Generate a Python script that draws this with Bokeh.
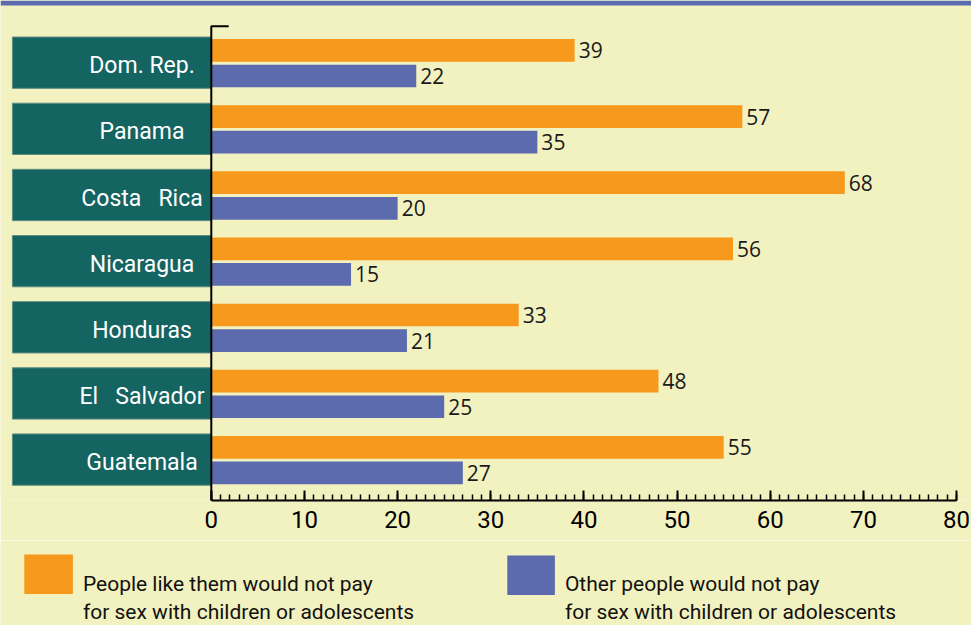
from bokeh.plotting import figure
from bokeh.models import Range1d, SingleIntervalTicker
from bokeh.layouts import column
from bokeh.core.properties import value
from bokeh.embed import file_html
from bokeh.resources import INLINE

# ---------------- data ----------------
countries = ["Dom. Rep.", "Panama", "Costa\u00a0\u00a0 Rica", "Nicaragua",
             "Honduras", "El\u00a0\u00a0 Salvador", "Guatemala"]
like_them = [39, 57, 68, 56, 33, 48, 55]
other_people = [22, 35, 20, 15, 21, 25, 27]
x_tick_interval = 10
x_max = 80
legend_labels = [
    ["People like them would not pay", "for sex with children or adolescents"],
    ["Other people would not pay", "for sex with children or adolescents"],
]

# ---------------- style ----------------
BG = "#F2F1C0"
ORANGE = "#F7991C"
BLUE = "#5B6BAD"
TEAL = "#146461"
TEAL_EDGE = "#5F8E84"
NARROW = "Roboto"

W = 971
H_TOP = 540
H_BOT = 85
FRAME_H = 500
X0 = 210.8                  # pixel position of value 0
PX_PER_UNIT = (956.1 - X0) / 80.0
ROW = 66.15                 # pixels per category
ROW0 = 62.2                 # pixel centre of first category

x_start = -X0 / PX_PER_UNIT
x_end = (W - X0) / PX_PER_UNIT
y_top = -ROW0 / ROW
y_bot = (FRAME_H - ROW0) / ROW

idx = list(range(len(countries)))
bar_h = 22.7 / ROW
y_orange = [i - 12.3 / ROW for i in idx]
y_blue = [i + 13.3 / ROW for i in idx]

p = figure(width=W, height=H_TOP,
           x_range=Range1d(x_start, x_end), y_range=Range1d(y_bot, y_top),
           y_axis_location=None, output_backend="svg", toolbar_location=None,
           min_border_left=0, min_border_right=0, min_border_top=0,
           min_border_bottom=H_TOP - FRAME_H)
p.background_fill_color = BG
p.border_fill_color = BG
p.outline_line_color = None
p.grid.visible = False

# top band
p.hbar(y=[y_top + 2.5 / ROW], height=5.0 / ROW, left=x_start, right=x_end,
       fill_color=BLUE, line_color=None)

# category boxes
box_left = (11.9 - X0) / PX_PER_UNIT
p.hbar(y=idx, left=box_left, right=0, height=51.3 / ROW,
       fill_color=TEAL, line_color=TEAL_EDGE, line_width=1)
p.text(x=[(141.5 - X0) / PX_PER_UNIT] * len(idx), y=[i + 3.0 / ROW for i in idx],
       text=countries, text_align="center", text_baseline="middle",
       text_color="white", text_font=value(NARROW), text_font_size="23px")

# bars
p.hbar(y=y_orange, left=0, right=like_them, height=bar_h,
       fill_color=ORANGE, line_color=None)
p.hbar(y=y_blue, left=0, right=other_people, height=bar_h,
       fill_color=BLUE, line_color=None)

# value labels
p.text(x=like_them, y=y_orange, text=[str(v) for v in like_them], x_offset=4,
       text_align="left", text_baseline="middle", text_color="#1A1A1A",
       text_font=value("Open Sans"), text_font_size="21px")
p.text(x=other_people, y=y_blue, text=[str(v) for v in other_people], x_offset=4,
       text_align="left", text_baseline="middle", text_color="#1A1A1A",
       text_font=value("Open Sans"), text_font_size="21px")

# vertical axis line with small top tick
top_y = (25.7 - ROW0) / ROW
p.line(x=[17.4 / PX_PER_UNIT, 0, 0], y=[top_y, top_y, y_bot],
       line_color="black", line_width=2)

# x axis
ax = p.xaxis[0]
ax.bounds = (0, x_max)
ax.ticker = SingleIntervalTicker(interval=x_tick_interval, num_minor_ticks=10)
ax.major_tick_in = 10
ax.major_tick_out = 0
ax.minor_tick_in = 6
ax.minor_tick_out = 0
ax.axis_line_width = 2
ax.axis_line_color = "black"
ax.major_tick_line_width = 2
ax.minor_tick_line_width = 1.5
ax.major_tick_line_color = "black"
ax.minor_tick_line_color = "black"
ax.major_label_text_font = NARROW
ax.major_label_text_font_size = "24px"
ax.major_label_text_color = "black"
ax.major_label_standoff = 10

# ---------------- legend figure ----------------
p2 = figure(width=W, height=H_BOT, x_range=Range1d(0, W), y_range=Range1d(H_BOT, 0),
            x_axis_location=None, y_axis_location=None, output_backend="svg",
            toolbar_location=None, min_border=0)
p2.background_fill_color = BG
p2.border_fill_color = BG
p2.outline_line_color = None
p2.grid.visible = False

key_left = [23.8, 506.8]
key_right = [72.4, 554.4]
key_top = [13.9, 14.9]
key_bottom = [53.4, 54.4]
p2.quad(left=key_left, right=key_right, top=key_top, bottom=key_bottom,
        fill_color=[ORANGE, BLUE], line_color=None)

tx, ty, tt = [], [], []
for k, lines in enumerate(legend_labels):
    for j, line in enumerate(lines):
        tx.append(key_right[k] + 10)
        ty.append(43.5 + 27.5 * j)
        tt.append(line)
p2.text(x=tx, y=ty, text=tt, text_align="left", text_baseline="alphabetic",
        text_color="#111111", text_font=value(NARROW), text_font_size="21px")

layout = column(p, p2, spacing=0)
open("out.html", "w").write(file_html(layout, INLINE))
